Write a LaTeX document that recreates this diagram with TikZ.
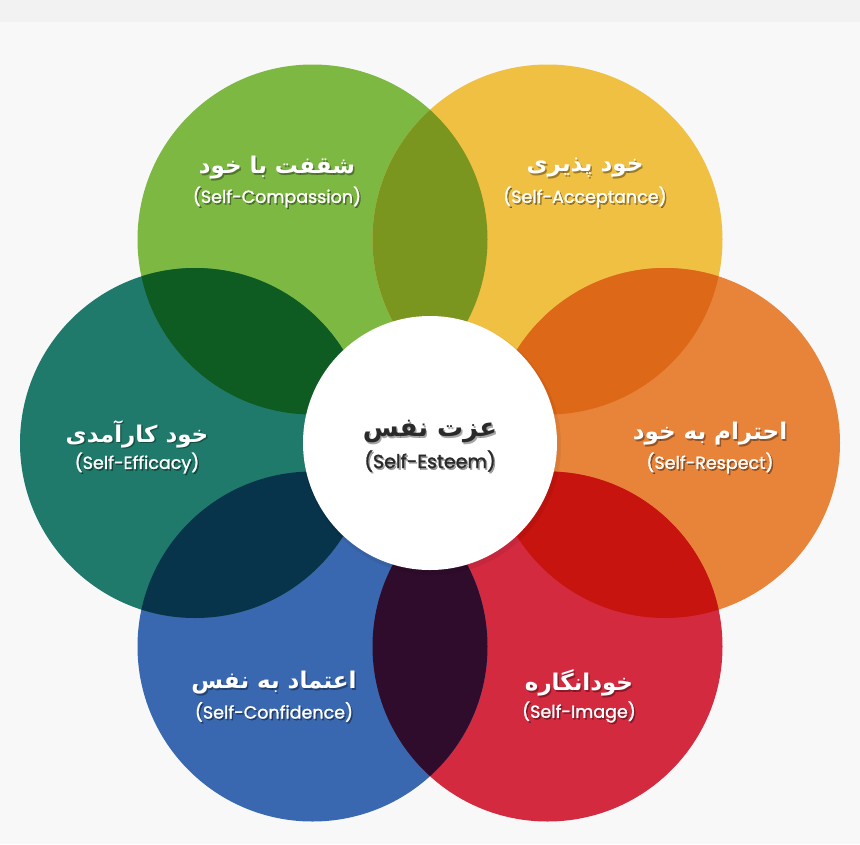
\documentclass[tikz,border=0pt]{standalone}
\usepackage{fontspec}
\setmainfont{Poppins}
\newfontfamily\en{Poppins}[FakeBold=1.4]
\newfontfamily\fa[Script=Arabic]{DejaVu Sans}
\TeXXeTstate=1
\usetikzlibrary{calc}
\definecolor{bgc}{HTML}{F8F8F8}
\definecolor{bgtop}{HTML}{F2F2F2}
\definecolor{cgreen}{HTML}{7DB843}
\definecolor{cyellow}{HTML}{F0C042}
\definecolor{corange}{HTML}{E8833A}
\definecolor{cred}{HTML}{D42A40}
\definecolor{cblue}{HTML}{3A68B0}
\definecolor{cteal}{HTML}{1F7A6B}
\definecolor{oGY}{HTML}{7B961E}
\definecolor{oYO}{HTML}{DD6817}
\definecolor{oOR}{HTML}{C8140E}
\definecolor{oRB}{HTML}{2F0C2B}
\definecolor{oBT}{HTML}{07344B}
\definecolor{oTG}{HTML}{0E5C22}
\definecolor{ctext}{HTML}{2A2A2A}
\newcommand\fasize{\fontsize{23}{26}\selectfont}
\newcommand\ensize{\fontsize{17.5}{20}\selectfont}
\tikzset{
  fatext/.style={inner sep=0pt, font=\fa\bfseries\fasize},
  entext/.style={inner sep=0pt, font=\en\ensize},
  shade/.style={text=black, text opacity=0.35},
}
\newcommand\circlabel[5]{%
  \node[fatext, shade] (#1fas) at ($(#2)+(1.4,1.6)$) {#3};
  \node[fatext, text=#5] (#1fa) at (#2) {#3};
  \node[entext, shade] (#1ens) at ($(#2)+(1.4,30.6)$) {(#4)};
  \node[entext, text=#5] (#1en) at ($(#2)+(0,29)$) {(#4)};
}
\newcommand\overlap[3]{%
  \begin{scope}
    \clip (#1) circle[radius=175pt];
    \fill[#3] (#2) circle[radius=175pt];
  \end{scope}
}
\begin{document}
\begin{tikzpicture}[x=1pt,y=-1pt]
\useasboundingbox (0,0) rectangle (860,844);
\fill[bgc] (0,0) rectangle (860,844);
\fill[bgtop] (0,0) rectangle (860,22);
\coordinate (c0) at (430,443);
\coordinate (cO) at (665,443);
\coordinate (cY) at (547.5,239.5);
\coordinate (cG) at (312.5,239.5);
\coordinate (cT) at (195,443);
\coordinate (cB) at (312.5,646.5);
\coordinate (cR) at (547.5,646.5);
\fill[cgreen] (cG) circle[radius=175pt];
\fill[cyellow] (cY) circle[radius=175pt];
\fill[corange] (cO) circle[radius=175pt];
\fill[cred] (cR) circle[radius=175pt];
\fill[cblue] (cB) circle[radius=175pt];
\fill[cteal] (cT) circle[radius=175pt];
\overlap{cG}{cY}{oGY}
\overlap{cY}{cO}{oYO}
\overlap{cO}{cR}{oOR}
\overlap{cR}{cB}{oRB}
\overlap{cB}{cT}{oBT}
\overlap{cT}{cG}{oTG}
\fill[black, opacity=0.06] ($(c0)+(2,3)$) circle[radius=129pt];
\fill[white] (c0) circle[radius=127pt];
\coordinate (tG) at (277,168);
\coordinate (tY) at (585,168);
\coordinate (tT) at (137,434);
\coordinate (tC) at (430,432);
\coordinate (tO) at (710,434);
\coordinate (tB) at (274,683);
\coordinate (tR) at (579,683);
\circlabel{g}{tG}{\beginR شقفت با خود\endR}{Self-Compassion}{white}
\circlabel{y}{tY}{\beginR خود پذیری\endR}{Self-Acceptance}{white}
\circlabel{t}{tT}{\beginR خود کارآمدی\endR}{Self-Efficacy}{white}
\begingroup
\renewcommand\fasize{\fontsize{26}{29}\selectfont}%
\renewcommand\ensize{\fontsize{19}{22}\selectfont}%
\circlabel{c}{tC}{\beginR عزت نفس\endR}{Self-Esteem}{ctext}
\endgroup
\circlabel{o}{tO}{\beginR احترام به خود\endR}{Self-Respect}{white}
\circlabel{b}{tB}{\beginR اعتماد به نفس\endR}{Self-Confidence}{white}
\circlabel{r}{tR}{\beginR خودانگاره\endR}{Self-Image}{white}
\end{tikzpicture}
\end{document}
